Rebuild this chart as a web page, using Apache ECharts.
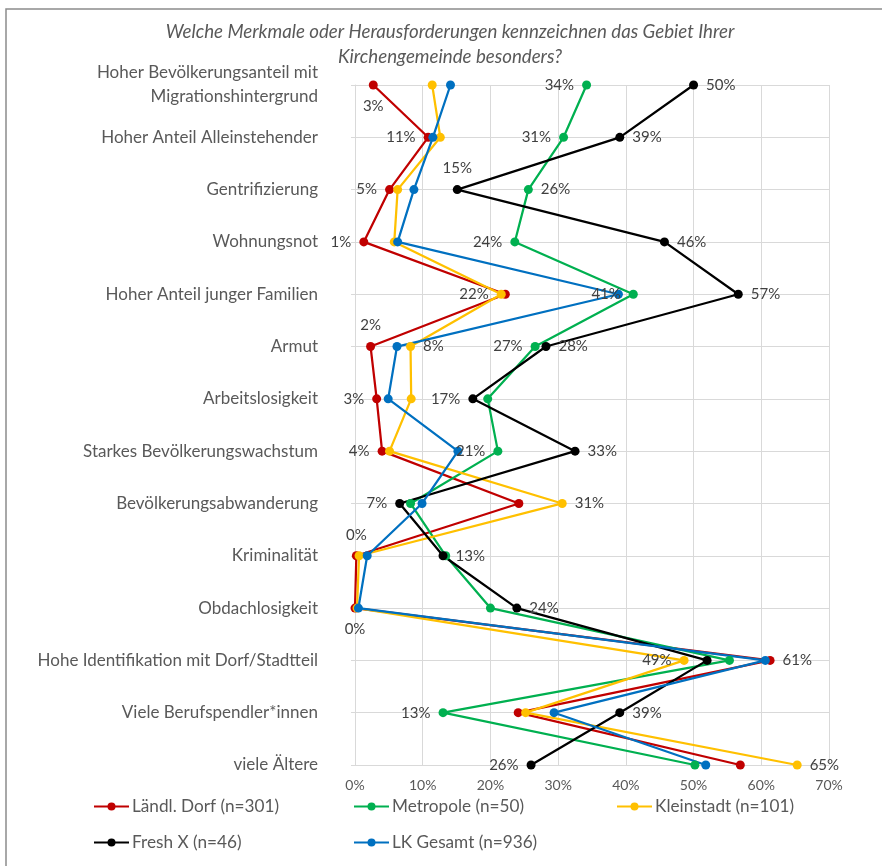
<!DOCTYPE html>
<html>
<head>
<meta charset="utf-8">
<script src="https://cdn.jsdelivr.net/npm/echarts@6/dist/echarts.min.js"></script>
<style>
html,body{margin:0;padding:0;background:#fff;}
#chart{width:882px;height:866px;}
</style>
</head>
<body>
<div id="chart"></div>
<script>
const categories = [
  'Hoher Bevölkerungsanteil mit\nMigrationshintergrund',
  'Hoher Anteil Alleinstehender',
  'Gentrifizierung',
  'Wohnungsnot',
  'Hoher Anteil junger Familien',
  'Armut',
  'Arbeitslosigkeit',
  'Starkes Bevölkerungswachstum',
  'Bevölkerungsabwanderung',
  'Kriminalität',
  'Obdachlosigkeit',
  'Hohe Identifikation mit Dorf/Stadtteil',
  'Viele Berufspendler*innen',
  'viele Ältere'
];
const xTicks = [0, 10, 20, 30, 40, 50, 60, 70];

const laendlDorf = [2.7, 10.8, 5.1, 1.3, 22.2, 2.3, 3.2, 4.0, 24.2, 0.2, 0.0, 61.3, 24.1, 56.9];
const metropole  = [34.2, 30.8, 25.6, 23.6, 41.1, 26.6, 19.6, 21.1, 8.2, 13.4, 20.0, 55.3, 13.0, 50.2];
const kleinstadt = [11.4, 12.6, 6.3, 5.8, 21.6, 8.2, 8.3, 5.1, 30.6, 0.6, 0.3, 48.6, 25.2, 65.3];
const freshX     = [50.0, 39.1, 15.1, 45.7, 56.6, 28.2, 17.4, 32.5, 6.6, 13.0, 23.9, 52.0, 39.1, 26.0];
const lkGesamt   = [14.1, 11.5, 8.7, 6.3, 38.9, 6.2, 4.9, 15.2, 9.9, 1.8, 0.5, 60.6, 29.4, 51.8];

const seriesNames = ['Ländl. Dorf (n=301)', 'Metropole (n=50)', 'Kleinstadt (n=101)', 'Fresh X (n=46)', 'LK Gesamt (n=936)'];
const seriesValues = [laendlDorf, metropole, kleinstadt, freshX, lkGesamt];
const seriesColors = ['#C00000', '#00B050', '#FFC000', '#000000', '#0070C0'];

// which points carry a data label, and on which side
const labelSides = [
  {0:'bottom',1:'left',2:'left',3:'left',5:'top',6:'left',7:'left',9:'top',10:'bottom',11:'right'},
  {0:'left',1:'left',2:'right',3:'left',4:'left',5:'left',7:'left',12:'left'},
  {4:'left',5:'right',8:'right',11:'left',13:'right'},
  {0:'right',1:'right',2:'top',3:'right',4:'right',5:'right',6:'left',7:'right',8:'left',9:'right',10:'right',12:'right',13:'left'},
  {}
];

const FONT = 'Lato';
const TXT = '#595959';

const series = seriesNames.map((name, si) => ({
  name: name,
  type: 'line',
  data: seriesValues[si].map((v, i) => {
    const side = labelSides[si][i];
    const item = { value: v };
    if (side) {
      item.label = {
        show: true,
        position: side,
        distance: (side === 'top' || side === 'bottom') ? 9 : 8,
        formatter: p => Math.round(p.value) + '%',
        fontFamily: FONT,
        fontSize: 15,
        color: '#404040'
      };
    }
    return item;
  }),
  symbol: 'circle',
  symbolSize: 9,
  lineStyle: { width: 2.25, color: seriesColors[si] },
  itemStyle: { color: seriesColors[si] },
  emphasis: { disabled: true },
  animation: false
}));

const legendPos = [[88, 793], [348, 793], [611, 793], [88, 829], [348, 829]];
const legends = seriesNames.map((n, i) => ({
  data: [n],
  left: legendPos[i][0],
  top: legendPos[i][1],
  itemWidth: 35,
  itemHeight: 10,
  selectedMode: false,
  textStyle: { fontFamily: FONT, fontSize: 17.2, color: TXT, padding: [0, 0, 0, -2] }
}));

const chart = echarts.init(document.getElementById('chart'), null, { renderer: 'canvas' });
chart.setOption({
  backgroundColor: '#fff',
  animation: false,
  textStyle: { fontFamily: FONT },
  title: {
    text: 'Welche Merkmale oder Herausforderungen kennzeichnen das Gebiet Ihrer\nKirchengemeinde besonders?',
    left: 445,
    top: 14,
    textAlign: 'center',
    textStyle: { fontFamily: FONT, fontStyle: 'italic', fontWeight: 'normal', fontSize: 18.7, color: TXT, lineHeight: 25 }
  },
  graphic: [{
    type: 'rect',
    shape: { x: 6, y: 9, width: 900, height: 900 },
    style: { fill: 'none', stroke: '#8c8c8c', lineWidth: 1.5 },
    silent: true,
    z: -1
  }],
  legend: legends,
  grid: { left: 355, right: 53, top: 85, bottom: 101, containLabel: false },
  xAxis: {
    type: 'value',
    min: xTicks[0],
    max: xTicks[xTicks.length - 1],
    interval: xTicks[1] - xTicks[0],
    axisLine: { show: false },
    axisTick: { show: false },
    splitLine: { show: true, lineStyle: { color: '#d9d9d9', width: 1 } },
    axisLabel: { formatter: '{value}%', fontFamily: FONT, fontSize: 14, color: TXT, margin: 13 }
  },
  yAxis: {
    type: 'category',
    data: categories,
    inverse: true,
    boundaryGap: false,
    axisLine: { show: true, lineStyle: { color: '#d9d9d9', width: 1 } },
    axisTick: { show: true, length: 4, lineStyle: { color: '#d9d9d9' } },
    splitLine: { show: true, lineStyle: { color: '#d9d9d9', width: 1 } },
    axisLabel: { fontFamily: FONT, fontSize: 17, color: TXT, margin: 37, lineHeight: 24, align: 'right' }
  },
  series: series
});
</script>
</body>
</html>
